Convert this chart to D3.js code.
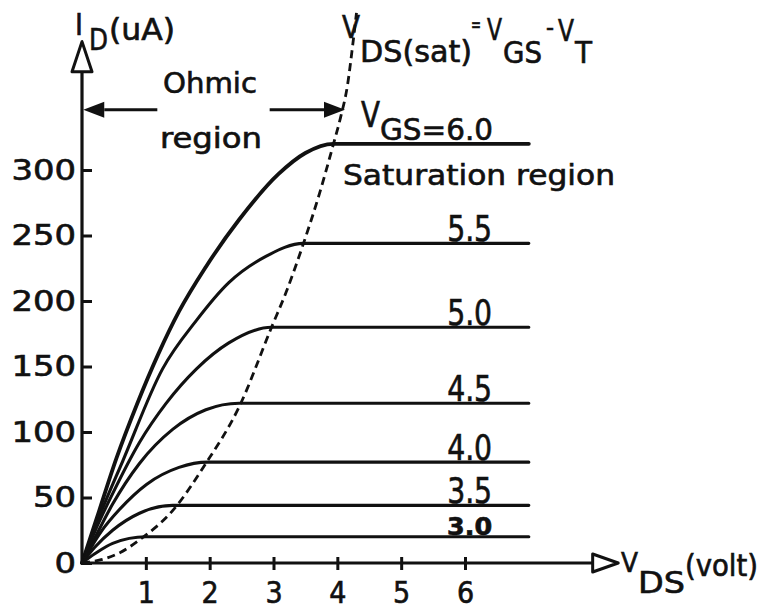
<!DOCTYPE html>
<html>
<head>
<meta charset="utf-8">
<script src="https://cdn.jsdelivr.net/npm/d3@7"></script>
<style>
html, body { margin: 0; padding: 0; background: #fff; }
svg { display: block; }
text { font-family: "DejaVu Sans Condensed", "DejaVu Sans", sans-serif; font-stretch: condensed; fill: #111; stroke: #111; stroke-width: 0.6px; }
</style>
</head>
<body>
<svg id="chart"></svg>
<script>
// V_GS of each curve, with the saturation current and the knee (V_DS(sat))
var vgsLabels = ['6.0', '5.5', '5.0', '4.5', '4.0', '3.5', '3.0'];
var idSat = [320, 244, 180, 122, 77, 44, 20];
var vdsSat = [3.94, 3.47, 2.97, 2.46, 1.97, 1.42, 1.0];
var vdsEnd = 7.0;

// ohmic part of each curve, [V_DS, I_D]
var ohmic = [
	[[0, 0], [0.23, 34], [0.54, 80], [0.86, 121], [1.2, 160], [1.52, 192], [1.94, 226], [2.46, 262], [3.08, 297], [3.5, 313]],
	[[0, 0], [0.3, 39], [0.64, 78], [1.26, 148], [1.79, 185], [2.3, 214], [2.88, 234]],
	[[0, 0], [0.2, 24], [0.48, 53], [0.9, 92], [1.32, 122], [1.79, 148], [2.3, 168]],
	[[0, 0], [0.2, 19], [0.48, 45], [0.9, 76], [1.42, 102], [1.94, 117]],
	[[0, 0], [0.3, 24], [0.59, 41], [1.01, 60], [1.52, 73]],
	[[0, 0], [0.2, 12], [0.48, 25], [0.9, 38]],
	[[0, 0], [0.2, 7], [0.48, 15]]
];

// dashed V_DS(sat) locus
var satLocus = [[0, 0], [0.3, 2.5], [0.6, 8], [0.91, 18], [1.42, 40], [1.94, 76], [2.46, 119], [2.97, 180],
	[3.2, 207], [3.47, 244], [3.72, 282], [3.94, 320], [4.05, 340], [4.16, 365], [4.24, 395], [4.3, 420]];

var xTicks = [1, 2, 3, 4, 5, 6];
var yTicks = [0, 50, 100, 150, 200, 250, 300];

var width = 763, height = 612;

var svg = d3.select('#chart')
	.attr('width', width)
	.attr('height', height);

svg.append('rect').attr('width', width).attr('height', height).attr('fill', '#fff');

var x = d3.scaleLinear().domain([0, 6]).range([82, 465]);
var y = d3.scaleLinear().domain([0, 300]).range([563, 170]);

var ink = '#111';

// axes
var gy = svg.append('g')
	.attr('transform', 'translate(' + x(0) + ',0)')
	.call(d3.axisLeft(y).tickValues(yTicks).tickSize(-10).tickPadding(6).tickSizeOuter(0));
gy.select('.domain').remove();
gy.selectAll('.tick line').attr('stroke', ink).attr('stroke-width', 3);
gy.selectAll('.tick text')
	.attr('font-size', 29)
	.attr('textLength', function(d) { return String(d).length * 21.5; })
	.attr('lengthAdjust', 'spacingAndGlyphs');

var gx = svg.append('g')
	.attr('transform', 'translate(0,' + y(0) + ')')
	.call(d3.axisBottom(x).tickValues(xTicks).tickFormat(d3.format('d')).tickSize(7).tickPadding(12).tickSizeOuter(0));
gx.select('.domain').remove();
gx.selectAll('.tick line').attr('y1', -6).attr('stroke', ink).attr('stroke-width', 3);
gx.selectAll('.tick text').attr('font-size', 30);

var yAxisTop = 375, yArrowTip = 398, xAxisEnd = 8.0, xArrowTip = 8.4;

svg.append('line')
	.attr('x1', x(0)).attr('y1', y(0))
	.attr('x2', x(0)).attr('y2', y(yAxisTop))
	.attr('stroke', ink).attr('stroke-width', 3.2);
svg.append('line')
	.attr('x1', x(0)).attr('y1', y(0))
	.attr('x2', x(xAxisEnd)).attr('y2', y(0))
	.attr('stroke', ink).attr('stroke-width', 3);

svg.append('polygon')
	.attr('points', [[x(0), y(yArrowTip)], [x(0) - 10, y(yAxisTop)], [x(0) + 10, y(yAxisTop)]].join(' '))
	.attr('fill', '#fff').attr('stroke', ink).attr('stroke-width', 3).attr('stroke-linejoin', 'round');
svg.append('polygon')
	.attr('points', [[x(xArrowTip), y(0)], [x(xAxisEnd), y(0) - 9], [x(xAxisEnd), y(0) + 9]].join(' '))
	.attr('fill', '#fff').attr('stroke', ink).attr('stroke-width', 3).attr('stroke-linejoin', 'round');

// characteristic curves
var line = d3.line()
	.x(function(d) { return x(d[0]); })
	.y(function(d) { return y(d[1]); })
	.curve(d3.curveMonotoneX);

var curves = vgsLabels.map(function(v, i) {
	return { label: v, isat: idSat[i], pts: ohmic[i].concat([[vdsSat[i], idSat[i]], [vdsEnd, idSat[i]]]) };
});

svg.append('g').selectAll('path')
	.data(curves)
	.enter()
	.append('path')
	.attr('d', function(d) { return line(d.pts); })
	.attr('fill', 'none')
	.attr('stroke', ink)
	.attr('stroke-width', function(d, i) { return i === 0 ? 3.8 : 3.1; })
	.attr('stroke-linecap', 'round');

svg.append('path')
	.attr('d', line(satLocus))
	.attr('fill', 'none')
	.attr('stroke', ink)
	.attr('stroke-width', 2.8)
	.attr('stroke-dasharray', '8,5');

// V_GS value labels sitting on the flat lines
svg.append('g').selectAll('text')
	.data(curves.slice(1))
	.enter()
	.append('text')
	.attr('x', x(5.72))
	.attr('y', function(d) { return y(d.isat) - 2; })
	.attr('font-size', function(d) { return d.label === '3.0' ? 24 : 36; })
	.attr('font-weight', function(d) { return d.label === '3.0' ? 'bold' : 'normal'; })
	.attr('textLength', 45)
	.attr('lengthAdjust', 'spacingAndGlyphs')
	.text(function(d) { return d.label; });

// free text helper
function label(px, py, str, size, len) {
	var t = svg.append('text').attr('x', px).attr('y', py).attr('font-size', size).text(str);
	if (len) t.attr('textLength', len).attr('lengthAdjust', 'spacingAndGlyphs');
	return t;
}

// y title I_D(uA)
label(75, 35, 'I', 30);
label(89, 50, 'D', 31, 19);
label(109, 40, '(uA)', 30, 66);

// x title V_DS(volt)
label(621, 572, 'V', 27, 17);
label(638, 593, 'DS', 31, 47);
label(685, 576, '(volt)', 30, 73);

// V_DS(sat) = V_GS - V_T
label(342, 38, 'V', 32, 18);
label(360, 62, 'DS(sat)', 30, 112);
label(471, 31, '=', 20, 10);
label(487, 40, 'V', 30, 15);
label(503, 63, 'GS', 30, 39);
label(546, 36, '-', 24, 8);
label(558, 41, 'V', 30, 16);
label(575, 63, 'T', 30, 17);

// V_GS = 6.0
label(361, 127, 'V', 36, 19);
label(380, 140, 'GS=6.0', 31, 113);

// region annotations
label(163, 93, 'Ohmic', 29, 94);
label(160, 148, 'region', 29, 102);
label(343, 185, 'Saturation region', 29, 272);

var arrowY = y(346);
function arrow(fromV, toV) {
	var x0 = x(fromV), x1 = x(toV), dir = x1 > x0 ? 1 : -1;
	var base = x1 - dir * 21;
	svg.append('line')
		.attr('x1', x0).attr('y1', arrowY).attr('x2', base).attr('y2', arrowY)
		.attr('stroke', ink).attr('stroke-width', 3);
	svg.append('polygon')
		.attr('points', [[x1, arrowY], [base, arrowY - 8], [base, arrowY + 8]].join(' '))
		.attr('fill', ink);
}
arrow(1.18, 0.02);
arrow(2.94, 4.12);
</script>
</body>
</html>
